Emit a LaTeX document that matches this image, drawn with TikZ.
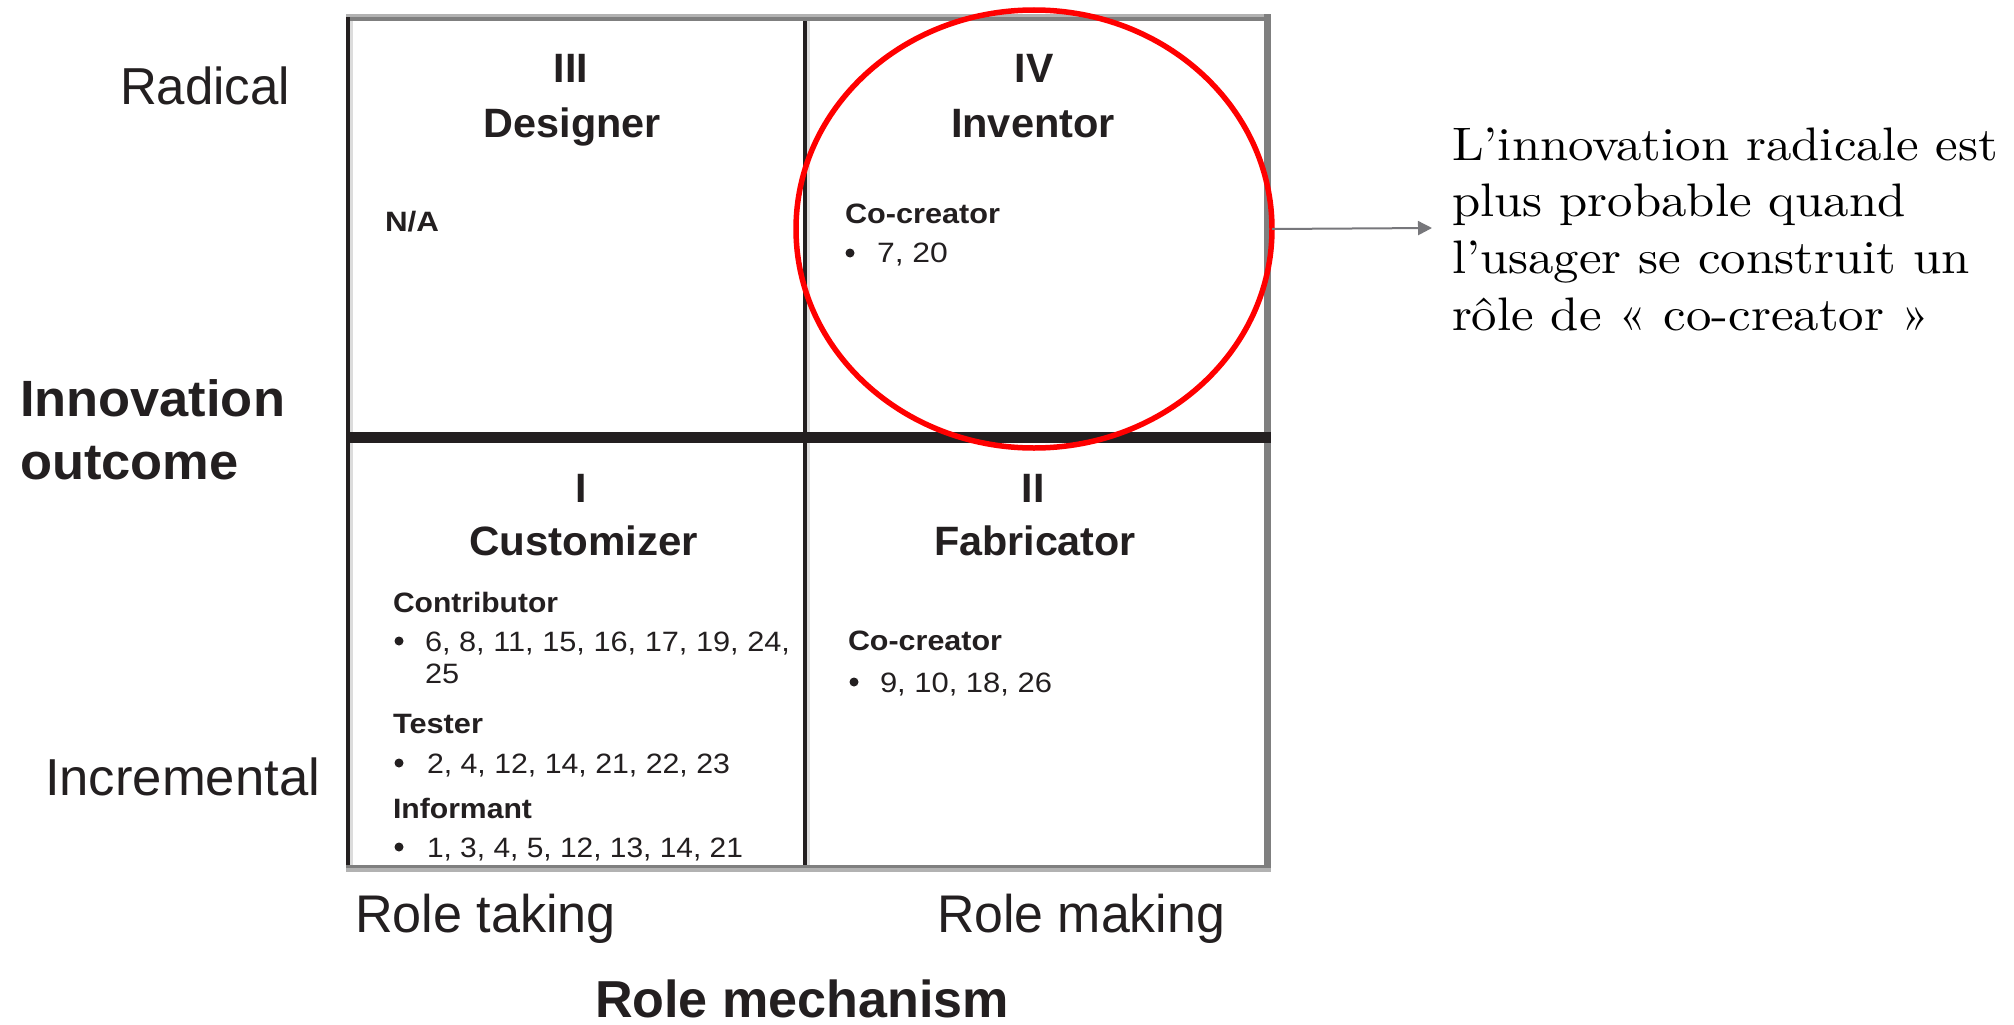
\documentclass[tikz,border=0pt]{standalone}
\usepackage{fontspec}
\usepackage{graphicx}
\usetikzlibrary{shapes.geometric,arrows.meta}
\newfontfamily\gridsans{Liberation Sans}
\newfontfamily\noteserif{lmroman10-regular.otf}
\definecolor{ink}{HTML}{231F20}
\definecolor{rulegray}{HTML}{7F7F7F}
\definecolor{rulelight}{HTML}{B2B2B2}
\definecolor{edgeshade}{HTML}{DCDCDC}
\definecolor{pointer}{HTML}{77777B}
% stretch a text box to a given width, keeping its height
\newcommand{\fitto}[2]{\resizebox{#1}{\height}{#2}}
\newcommand{\twolines}[2]{\begin{tabular}[t]{@{}l@{}}#1\\#2\end{tabular}}
\newcommand{\nodepth}[1]{\raisebox{0pt}[\height][0pt]{#1}}

\begin{document}
\begin{tikzpicture}[x=1pt,y=-1pt,
  every node/.style={inner sep=0pt,outer sep=0pt},
  sidelbl/.style={text=ink,anchor=base west,font=\gridsans\fontsize{52}{60}\selectfont},
  sidebold/.style={text=ink,anchor=base west,font=\gridsans\bfseries\fontsize{51}{63}\selectfont},
  axislbl/.style={text=ink,anchor=base west,font=\gridsans\fontsize{53}{60}\selectfont},
  axisbold/.style={text=ink,anchor=base west,font=\gridsans\bfseries\fontsize{52}{60}\selectfont},
  quadtitle/.style={text=ink,anchor=base,font=\gridsans\bfseries\fontsize{41}{48}\selectfont},
  rolehead/.style={text=ink,anchor=base west,font=\gridsans\bfseries\fontsize{28}{32}\selectfont},
  cases/.style={text=ink,anchor=base west,font=\gridsans\fontsize{28}{32}\selectfont},
  note/.style={text=black,anchor=base west,font=\noteserif\fontsize{47}{56.7}\selectfont},
  ring/.style={ellipse,draw=red,line width=5.5pt,minimum width=476pt,minimum height=438pt},
  pointerline/.style={draw=pointer,line width=2pt,-{Triangle[length=14pt,width=14pt]}}
]
\fill[white] (0,0) rectangle (2014,1025);
\useasboundingbox (0,0) rectangle (2014,1025);

% frame of the two-by-two matrix
\fill[rulelight] (346,14) rectangle (1271,17);
\fill[rulegray] (346,17) rectangle (1271,21);
\fill[edgeshade] (350,21) rectangle (353,865);
\fill[ink] (346,17) rectangle (350,865);
\fill[edgeshade] (807,21) rectangle (810,865);
\fill[ink] (803,21) rectangle (807,865);
\fill[rulegray] (1264,14) rectangle (1271,865);
\fill[ink] (346,432) rectangle (1271,443);
\fill[rulegray] (346,865) rectangle (1271,868);
\fill[rulelight] (346,868) rectangle (1271,872);

% vertical axis
\node[sidelbl] (radical) at (120,104) {\fitto{170pt}{Radical}};
\node[sidebold] (outcome) at (20,416) {\fitto{265pt}{\twolines{Innovation}{outcome}}};
\node[sidelbl] (incremental) at (45,795) {\fitto{275pt}{Incremental}};

% horizontal axis
\node[axislbl] (taking) at (355,932) {\fitto{261pt}{Role taking}};
\node[axislbl] (making) at (937,932) {\fitto{288pt}{Role making}};
\node[axisbold] (mechanism) at (595,1017) {\nodepth{\fitto{414pt}{Role mechanism}}};

% quadrant III
\node[quadtitle] (q3num) at (571,83) {III};
\node[quadtitle] (q3name) at (572.5,137) {\fitto{177pt}{Designer}};
\node[rolehead] (q3na) at (385,231) {\fitto{54pt}{N/A}};

% quadrant IV
\node[quadtitle] (q4num) at (1034,83) {IV};
\node[quadtitle] (q4name) at (1033,137) {\fitto{164pt}{Inventor}};
\node[rolehead] (q4role) at (845,223) {\fitto{155pt}{Co-creator}};
\fill[ink] (850,253) circle[radius=4.5pt];
\node[cases] (q4cases) at (877,262) {\fitto{71pt}{7, 20}};

% quadrant I
\node[quadtitle] (q1num) at (581,502) {I};
\node[quadtitle] (q1name) at (583.5,555) {\fitto{229pt}{Customizer}};
\node[rolehead] (q1contrib) at (393,612) {\fitto{165pt}{Contributor}};
\fill[ink] (399,641) circle[radius=4.5pt];
\node[cases] (q1contribcases) at (425,651) {\fitto{365pt}{\twolines{6, 8, 11, 15, 16, 17, 19, 24,}{25}}};
\node[rolehead] (q1tester) at (393,733) {\fitto{90pt}{Tester}};
\fill[ink] (399,763) circle[radius=4.5pt];
\node[cases] (q1testercases) at (427,773) {\fitto{303pt}{2, 4, 12, 14, 21, 22, 23}};
\node[rolehead] (q1inform) at (393,818) {\fitto{139pt}{Informant}};
\fill[ink] (399,847) circle[radius=4.5pt];
\node[cases] (q1informcases) at (427,857) {\fitto{316pt}{1, 3, 4, 5, 12, 13, 14, 21}};

% quadrant II
\node[quadtitle] (q2num) at (1033,502) {II};
\node[quadtitle] (q2name) at (1035,555) {\fitto{202pt}{Fabricator}};
\node[rolehead] (q2role) at (848,650) {\fitto{154pt}{Co-creator}};
\fill[ink] (854,682) circle[radius=4.5pt];
\node[cases] (q2cases) at (880,692) {\fitto{172pt}{9, 10, 18, 26}};

% highlight of quadrant IV and its comment
\node[ring] (ring) at (1034,229) {};
\coordinate (tip) at (1432,228);
\draw[pointerline] (ring.east) -- (tip);
\node[note] (comment) at (1452,160) {\fitto{546pt}{\begin{tabular}[t]{@{}l@{}}L’innovation radicale est\\plus probable quand\\l’usager se construit un\\rôle de « co-creator »\end{tabular}}};
\end{tikzpicture}
\end{document}
